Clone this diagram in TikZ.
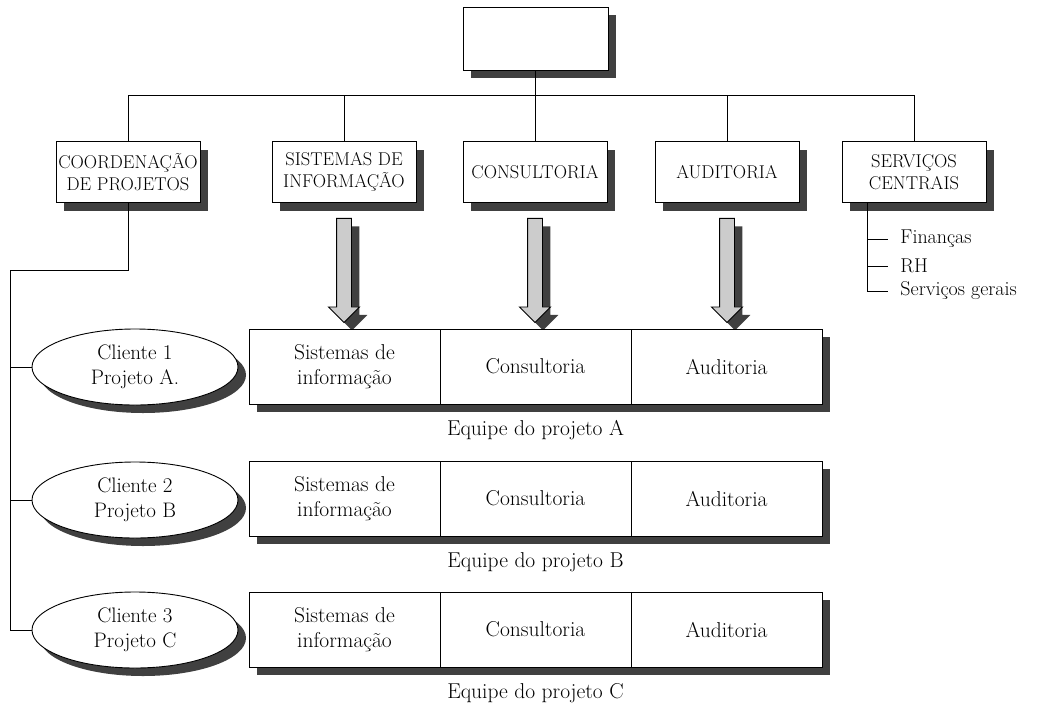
\documentclass[tikz,border=0pt]{standalone}
\usepackage{tikz}
\usetikzlibrary{shapes,arrows,positioning,shadows}

\begin{document}
\begin{tikzpicture}[x=1pt, y=-1pt, node distance=0pt, line width=0.9pt,
    sombra/.style={drop shadow={shadow xshift=8pt, shadow yshift=-8pt, fill=black!75, opacity=1}},
    caixa/.style={rectangle, draw, fill=white, sombra, minimum width=144pt, minimum height=61pt, inner sep=2pt, align=center, font=\fontsize{18.5}{22}\selectfont},
    celula/.style={rectangle, draw, fill=white, sombra, outer sep=0pt, minimum width=191pt, minimum height=75pt, align=center, font=\fontsize{21.5}{25}\selectfont},
    cliente/.style={ellipse, draw, fill=white, sombra, minimum width=206pt, minimum height=76pt, inner sep=0pt, align=center, font=\fontsize{21}{25}\selectfont},
    seta/.style={single arrow, draw, fill=black!20, sombra, shape border rotate=270, minimum height=104pt, inner sep=7pt, single arrow head extend=8pt},
    rotulo/.style={font=\fontsize{21.5}{25}\selectfont},
    item/.style={anchor=west, inner sep=0pt, inner xsep=12pt, font=\fontsize{20}{24}\selectfont}]
    \useasboundingbox (0,0) rectangle (1040,704);

    \node (topo) [caixa, minimum width=145pt, minimum height=63pt] at (535.5,38.5) {};
    \node (coord) [caixa] at (128,172) {COORDENAÇÃO\\DE PROJETOS};
    \node (sist) [caixa] at (344,172) {SISTEMAS DE\\INFORMAÇÃO};
    \node (cons) [caixa] at (535,172) {CONSULTORIA};
    \node (audi) [caixa] at (727,172) {AUDITORIA};
    \node (serv) [caixa] at (914,172) {SERVIÇOS\\CENTRAIS};

    \foreach \n in {coord,sist,cons,audi,serv}
        \draw (topo.south) -- ++(0,25) -| (\n.north);

    \node (fin) [item] at (888,239) {Finanças};
    \node (rh)  [item] at (888,266) {RH};
    \node (sg)  [item] at (888,291) {Serviços gerais};
    \coordinate (sv) at ([xshift=26pt]serv.south west);
    \foreach \s in {fin,rh,sg}
        \draw (sv) |- (\s.west);

    \node (setaSI) [seta, below=15pt of sist] {};
    \node (setaCO) [seta, below=15pt of cons] {};
    \node (setaAU) [seta, below=15pt of audi] {};

    \node (cli1) [cliente] at (135,367) {Cliente 1\\Projeto A.};
    \node (cli2) [cliente] at (135,500) {Cliente 2\\Projeto B};
    \node (cli3) [cliente] at (135,630) {Cliente 3\\Projeto C};

    \node (sisA) [celula] at (344.5,366.5) {Sistemas de\\informação};
    \node (conA) [celula, right=of sisA] {Consultoria};
    \node (audA) [celula, right=of conA] {Auditoria};
    \node (eqA) [rotulo, below=13pt of conA] {Equipe do projeto A};

    \node (sisB) [celula] at (344.5,498.5) {Sistemas de\\informação};
    \node (conB) [celula, right=of sisB] {Consultoria};
    \node (audB) [celula, right=of conB] {Auditoria};
    \node (eqB) [rotulo, below=13pt of conB] {Equipe do projeto B};

    \node (sisC) [celula] at (344.5,629.5) {Sistemas de\\informação};
    \node (conC) [celula, right=of sisC] {Consultoria};
    \node (audC) [celula, right=of conC] {Auditoria};
    \node (eqC) [rotulo, below=13pt of conC] {Equipe do projeto C};

    \coordinate (esq) at (10,270);
    \foreach \c in {cli1,cli2,cli3}
        \draw (coord.south) |- (esq) |- (\c.west);
\end{tikzpicture}
\end{document}
